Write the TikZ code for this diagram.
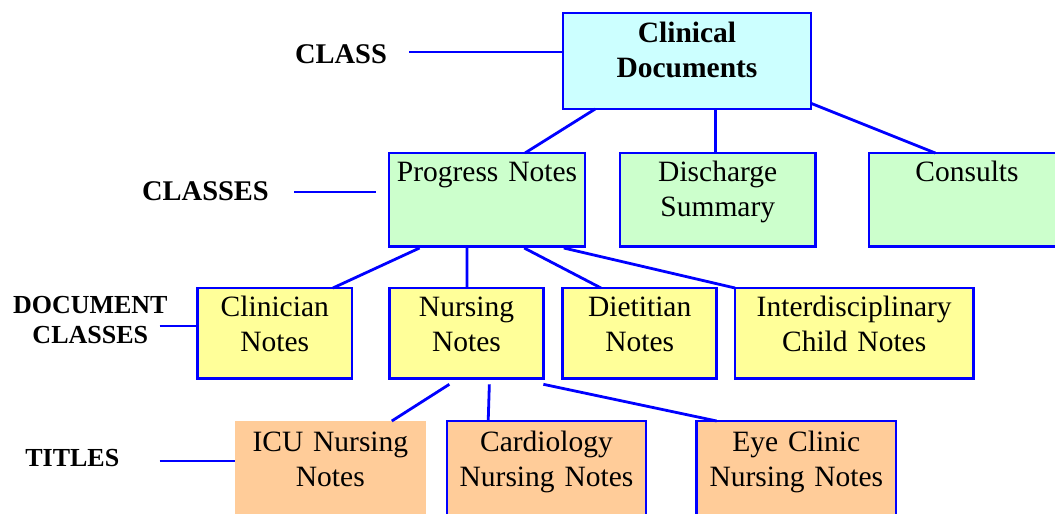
\documentclass[tikz,border=0pt]{standalone}
\usepackage{fontspec}
\setmainfont{Liberation Serif}
\definecolor{bl}{HTML}{0000FF}
\definecolor{cyanf}{HTML}{CCFFFF}
\definecolor{greenf}{HTML}{CCFFCC}
\definecolor{yelf}{HTML}{FFFF99}
\definecolor{oraf}{HTML}{FFCC99}
\begin{document}
\begin{tikzpicture}[x=1pt,y=-1pt,
  box/.style={draw=bl, line width=2.8pt, inner sep=0pt, outer sep=0pt},
  conn/.style={draw=bl, line width=2.8pt},
  txt/.style={inner sep=0pt, anchor=base, align=center, text width=#1, font=\fontsize{29.5}{35}\selectfont},
  lab/.style={inner sep=0pt, anchor=base, align=center, font=\bfseries\fontsize{#1}{30}\selectfont}]
\clip (0,0) rectangle (1055,514);
\fill[white] (0,0) rectangle (1055,514);

% boxes
\node[box, fill=cyanf, minimum width=248pt, minimum height=96pt] (cd) at (687,61) {};
\node[box, fill=greenf, minimum width=196pt, minimum height=93.5pt] (pn) at (487,199.75) {};
\node[box, fill=greenf, minimum width=195.5pt, minimum height=93.5pt] (ds) at (717.75,199.75) {};
\node[box, fill=greenf, minimum width=196pt, minimum height=93.5pt] (co) at (967,199.75) {};
\node[box, fill=yelf, minimum width=154.5pt, minimum height=90.5pt] (cn) at (274.75,333.25) {};
\node[box, fill=yelf, minimum width=154.3pt, minimum height=90.5pt] (nn) at (466.5,333.25) {};
\node[box, fill=yelf, minimum width=154pt, minimum height=90.5pt] (dn) at (639.7,333.25) {};
\node[box, fill=yelf, minimum width=238.3pt, minimum height=90.5pt] (idn) at (854.2,333.25) {};
\node[box, draw=none, fill=oraf, minimum width=190.7pt, minimum height=94pt] (icu) at (330.35,468) {};
\node[box, fill=oraf, minimum width=199pt, minimum height=95pt] (cnn) at (546.5,468.5) {};
\node[box, fill=oraf, minimum width=199.3pt, minimum height=95pt] (eye) at (796.35,468.5) {};

% box texts
\node[txt=235pt, font=\bfseries\fontsize{29.5}{35}\selectfont] (cdt) at ([yshift=-29.7pt]cd.north) {Clinical\\Documents};
\node[txt=190pt] (pnt) at ([yshift=-28.7pt]pn.north) {Progress Notes};
\node[txt=185pt] (dst) at ([yshift=-28.7pt]ds.north) {Discharge\\Summary};
\node[txt=185pt] (cot) at ([yshift=-28.7pt]co.north) {Consults};
\node[txt=145pt] (cnt) at ([yshift=-28.7pt]cn.north) {Clinician\\Notes};
\node[txt=145pt] (nnt) at ([yshift=-28.7pt]nn.north) {Nursing\\Notes};
\node[txt=145pt] (dnt) at ([yshift=-28.7pt]dn.north) {Dietitian\\Notes};
\node[txt=228pt] (idnt) at ([yshift=-28.7pt]idn.north) {Interdisciplinary\\Child Notes};
\node[txt=182pt] (icut) at ([yshift=-30pt]icu.north) {ICU Nursing\\Notes};
\node[txt=190pt] (cnnt) at ([yshift=-30pt]cnn.north) {Cardiology\\Nursing Notes};
\node[txt=190pt] (eyet) at ([yshift=-30pt]eye.north) {Eye Clinic\\Nursing Notes};

% level labels
\node[lab=28.5] (l1) at (341,63.3) {CLASS};
\node[lab=28.5] (l2) at (205.5,200) {CLASSES};
\node[lab=26, text width=170pt] (l3) at (90.3,313.3) {DOCUMENT\\CLASSES};
\node[lab=26] (l4) at (72.3,466) {TITLES};

% label lines
\coordinate (a1) at (409,52);
\coordinate (b1) at (294,192);
\coordinate (b2) at (376,192);
\coordinate (c1) at (159.6,326);
\coordinate (d1) at (159.6,461);
\draw[conn] (a1) -- (a1 -| cd.west);
\draw[conn] (b1) -- (b2);
\draw[conn] (c1) -- (c1 -| cn.west);
\draw[conn] (d1) -- (d1 -| icu.west);

% tree connectors
\draw[conn] ([xshift=32.2pt]cd.south west) -- ([xshift=136pt]pn.north west);
\draw[conn] ([xshift=152.8pt]cd.south west) -- ([xshift=95.8pt]ds.north west);
\draw[conn] ([yshift=5.7pt]cd.south east) -- ([xshift=66.3pt]co.north west);

\draw[conn] ([xshift=30.6pt,yshift=-1.5pt]pn.south west) -- ([xshift=135.4pt]cn.north west);
\draw[conn] ([xshift=78pt,yshift=-1.5pt]pn.south west) -- ([xshift=77.7pt]nn.north west);
\draw[conn] ([xshift=135.2pt,yshift=-1.5pt]pn.south west) -- ([xshift=38.3pt]dn.north west);
\draw[conn] ([xshift=174.8pt,yshift=-1.5pt]pn.south west) -- (idn.north west);

\draw[conn] ([xshift=60pt,yshift=-5.8pt]nn.south west) -- ([xshift=156.8pt]icu.north west);
\draw[conn] ([xshift=100pt,yshift=-5.8pt]nn.south west) -- ([xshift=41.2pt]cnn.north west);
\draw[conn] ([xshift=154pt,yshift=-5.8pt]nn.south west) -- ([xshift=20pt]eye.north west);
\end{tikzpicture}
\end{document}
